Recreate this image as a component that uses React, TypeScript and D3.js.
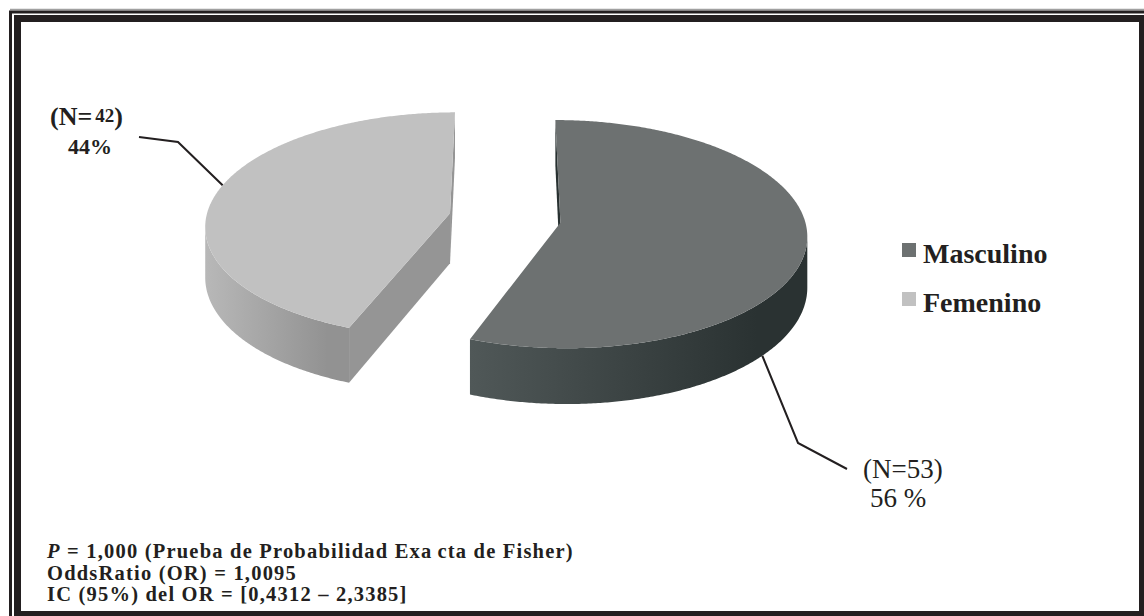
import React from "react";
import * as d3 from "d3";

// Sex distribution of the sample
const categories = ["Masculino", "Femenino"];
const counts = [53, 42];

// Colours per slice: top face, outer wall (light → dark), flat cut face
const topColors = ["#6d7171", "#c1c1c1"];
const wallLight = ["#505858", "#b8b8b8"];
const wallDark = ["#2a3232", "#929292"];
const cutColors = ["#283131", "#959595"];

// Statistics printed under the chart
const statLines = [
  { italic: "P", rest: " = 1,000 (Prueba de Probabilidad Exa", gap: "cta de Fisher)" },
  { italic: "", rest: "OddsRatio (OR) = 1,0095", gap: "" },
  { italic: "", rest: "IC (95%) del OR = [0,4312 \u2013 2,3385]", gap: "" },
];

const W = 1144;
const H = 616;
const INK = "#231f20";
const SERIF = "'Liberation Serif', 'Times New Roman', serif";

// Simple perspective projection of a tilted pie (unit radius disk)
const CX = 505;
const CY = 218;
const RX = 244;
const RY = 112;
const PERSP = 0.1;
const EXPLODE = 0.23;
const THICK = 50;

type Pt = [number, number];

function project(x: number, z: number, h: number): Pt {
  const D = 1 + PERSP * z;
  return [CX + (RX * x) / D, CY - (RY * z) / D + (THICK * h) / D];
}

function signedArea(pts: Pt[]): number {
  let s = 0;
  for (let i = 0; i < pts.length; i++) {
    const [x0, y0] = pts[i];
    const [x1, y1] = pts[(i + 1) % pts.length];
    s += x0 * y1 - x1 * y0;
  }
  return s / 2;
}

const line = d3.line<Pt>();
const poly = (pts: Pt[]) => (line(pts) || "") + "Z";

const pie = d3
  .pie<number>()
  .sort(null)
  .value((d) => d)
  .startAngle(0)
  .endAngle(2 * Math.PI);

const arcs = pie(counts);
const total = d3.sum(counts);
const pct = counts.map((c) => Math.round((c / total) * 100));

function sliceGeometry(a0: number, a1: number) {
  const mid = (a0 + a1) / 2;
  const ax = EXPLODE * Math.sin(mid);
  const az = EXPLODE * Math.cos(mid);
  const rim = (t: number, h: number) =>
    project(ax + Math.sin(t), az + Math.cos(t), h);
  const apex = (h: number) => project(ax, az, h);
  const n = Math.max(2, Math.ceil((a1 - a0) / (Math.PI / 360)));
  const thetas = d3.range(n + 1).map((i) => a0 + ((a1 - a0) * i) / n);

  const top = poly([apex(0), ...thetas.map((t) => rim(t, 0))]);

  // outer wall: keep only the camera-facing runs
  const vis = d3.range(n).map(
    (i) =>
      signedArea([
        rim(thetas[i], 0),
        rim(thetas[i + 1], 0),
        rim(thetas[i + 1], 1),
        rim(thetas[i], 1),
      ]) < 0
  );
  const walls: { d: string; x0: number; x1: number }[] = [];
  let i = 0;
  while (i < n) {
    if (!vis[i]) {
      i++;
      continue;
    }
    let j = i;
    while (j < n && vis[j]) j++;
    const ts = thetas.slice(i, j + 1);
    const pts = [
      ...ts.map((t) => rim(t, 0)),
      ...ts
        .slice()
        .reverse()
        .map((t) => rim(t, 1)),
    ];
    const xs = pts.map((p) => p[0]);
    walls.push({ d: poly(pts), x0: d3.min(xs)!, x1: d3.max(xs)! });
    i = j;
  }

  const cuts: string[] = [];
  const c0: Pt[] = [apex(0), rim(a0, 0), rim(a0, 1), apex(1)];
  if (signedArea(c0) < 0) cuts.push(poly(c0));
  const c1: Pt[] = [apex(0), apex(1), rim(a1, 1), rim(a1, 0)];
  if (signedArea(c1) < 0) cuts.push(poly(c1));

  return { top, walls, cuts, rim };
}

const slices = arcs.map((a) => sliceGeometry(a.startAngle, a.endAngle));

// Leader lines start on the slice rims
const mascAnchor = slices[0].rim((131 * Math.PI) / 180, 1);
const femAnchor = slices[1].rim((285 * Math.PI) / 180, 0);
const mascLeader: Pt[] = [mascAnchor, [798, 443], [847, 469]];
const femLeader: Pt[] = [femAnchor, [178, 142], [139, 137]];

export default function App() {
  const order = [1, 0];
  return (
    <svg
      width={W}
      height={H}
      viewBox={`0 0 ${W} ${H}`}
      style={{ position: "absolute", left: 0, top: 0, background: "#fff" }}
    >
      <defs>
        {slices.map((s, k) =>
          s.walls.map((w, wi) => (
            <linearGradient
              key={`g${k}-${wi}`}
              id={`wall${k}-${wi}`}
              gradientUnits="userSpaceOnUse"
              x1={w.x0}
              x2={w.x1}
              y1={0}
              y2={0}
            >
              <stop offset="0%" stopColor={wallLight[k]} />
              <stop offset="85%" stopColor={wallDark[k]} />
              <stop offset="100%" stopColor={wallDark[k]} />
            </linearGradient>
          ))
        )}
      </defs>

      <rect x={0} y={0} width={W} height={H} fill="#fff" />

      {/* frame */}
      <line x1={10} y1={9.5} x2={W} y2={9.5} stroke="#a0a0a0" strokeWidth={1.5} />
      <rect x={10.5} y={12} width={1150} height={620} fill="none" stroke={INK} strokeWidth={3} />
      <rect x={17.5} y={18.5} width={1125} height={596} fill="none" stroke={INK} strokeWidth={7} />

      {/* 3D pie */}
      {order.map((k) => {
        const s = slices[k];
        return (
          <g key={categories[k]}>
            {s.cuts.map((d, ci) => (
              <path key={`c${ci}`} d={d} fill={cutColors[k]} />
            ))}
            {s.walls.map((w, wi) => (
              <path key={`w${wi}`} d={w.d} fill={`url(#wall${k}-${wi})`} />
            ))}
            <path d={s.top} fill={topColors[k]} />
          </g>
        );
      })}

      {/* leader lines */}
      <path d={line(femLeader) || ""} fill="none" stroke={INK} strokeWidth={2} />
      <path d={line(mascLeader) || ""} fill="none" stroke={INK} strokeWidth={2} />

      {/* data labels */}
      <g fontFamily={SERIF} fill={INK}>
        <text x={50} y={125} fontSize={26} fontWeight="bold">
          (N=
          <tspan fontSize={19} dx={3} dy={-3}>{counts[1]}</tspan>
          <tspan fontSize={26} dy={3}>)</tspan>
        </text>
        <text x={68} y={154} fontSize={22} fontWeight="bold">
          {`${pct[1]}%`}
        </text>
        <text x={863} y={478} fontSize={27}>
          {`(N=${counts[0]})`}
        </text>
        <text x={870} y={507} fontSize={27}>
          {`${pct[0]} %`}
        </text>
      </g>

      {/* legend */}
      <g fontFamily={SERIF} fill={INK} fontWeight="bold" fontSize={28}>
        {categories.map((c, k) => (
          <g key={c} transform={`translate(902, ${243 + k * 49})`}>
            <rect x={0} y={0} width={14} height={14} fill={topColors[k]} />
            <text x={21} y={20}>{c}</text>
          </g>
        ))}
      </g>

      {/* statistics */}
      <g fontFamily={SERIF} fill={INK} fontWeight="bold" fontSize={20.5} letterSpacing={1.2}>
        {statLines.map((l, k) => (
          <text key={k} x={47} y={558 + k * 21.5}>
            {l.italic ? <tspan fontStyle="italic">{l.italic}</tspan> : null}
            {l.rest}
            {l.gap ? <tspan dx={5}>{l.gap}</tspan> : null}
          </text>
        ))}
      </g>
    </svg>
  );
}
